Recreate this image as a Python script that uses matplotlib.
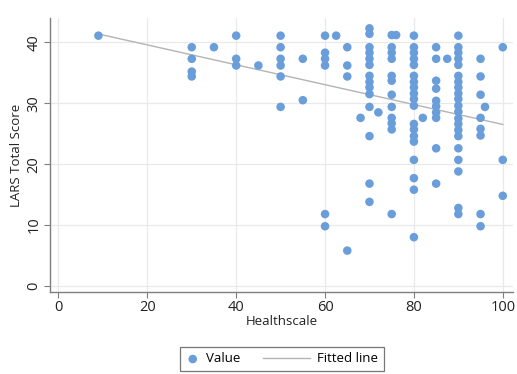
import numpy as np
import matplotlib
matplotlib.use("Agg")
import matplotlib.pyplot as plt
from matplotlib.legend_handler import HandlerPathCollection, HandlerLine2D

plt.rcParams['font.family'] = ['Open Sans', 'DejaVu Sans']

# ---- data ----
col_x = [9, 30, 35, 40, 45, 50, 55, 60, 62.5, 65, 68, 70, 72, 75, 76, 80, 82, 85, 87.5, 90, 95, 96, 100]
col_y = [
    [41.1],
    [39.2, 37.3, 35.2, 34.4],
    [39.2],
    [41.1, 37.3, 36.2],
    [36.2],
    [41.1, 39.2, 37.3, 36.2, 34.4, 29.4],
    [37.3, 30.5],
    [41.1, 38.3, 37.3, 36.2, 11.8, 9.8],
    [41.1],
    [39.2, 36.2, 34.4, 5.8],
    [27.6],
    [42.3, 41.4, 39.2, 38.3, 37.3, 36.3, 34.5, 33.5, 32.6, 31.5, 29.4, 24.6, 16.8, 13.8],
    [28.5],
    [41.2, 39.2, 38.3, 37.3, 34.5, 33.7, 31.4, 29.4, 27.6, 26.7, 25.7, 11.8],
    [41.2],
    [41.1, 39.2, 38.3, 37.3, 36.3, 34.5, 33.5, 32.6, 31.6, 30.7, 29.6, 26.6, 25.7, 24.6, 23.7, 20.7, 17.7, 15.8, 8.0],
    [27.6],
    [39.2, 37.3, 33.7, 32.4, 30.4, 29.5, 28.5, 27.6, 22.6, 16.8],
    [37.3],
    [41.1, 39.2, 38.3, 37.3, 36.3, 34.5, 33.5, 32.6, 31.6, 30.7, 29.6, 28.6, 27.5, 26.6, 25.6, 24.6, 22.6, 20.7, 18.8, 12.8, 11.8],
    [37.3, 34.4, 31.4, 27.6, 25.8, 24.7, 11.8, 9.8],
    [29.4],
    [39.2, 20.7, 14.8],
]
healthscale = np.concatenate([[x] * len(ys) for x, ys in zip(col_x, col_y)])
lars_score = np.concatenate(col_y)

x_ticks = [0, 20, 40, 60, 80, 100]
y_ticks = [0, 10, 20, 30, 40]

point_color = '#6a9edb'
line_color = '#b4b4b4'
grid_color = '#e9e9e9'
axis_color = '#7f7f7f'

fig = plt.figure(figsize=(5.17, 3.74), dpi=100)
ax = fig.add_axes([50 / 517, 82 / 374, 463 / 517, 274 / 374])

sc = ax.scatter(healthscale, lars_score, s=38, color=point_color, edgecolors='none',
                zorder=3, label='Value')

slope, intercept = np.polyfit(healthscale, lars_score, 1)
xf = np.array([healthscale.min(), healthscale.max()])
ln, = ax.plot(xf, intercept + slope * xf, color=line_color, lw=1.0, zorder=2,
              label='Fitted line')

ax.set_xlim(-1.9, 102.3)
ax.set_ylim(-1.0, 44.0)
ax.set_xticks(x_ticks)
ax.set_yticks(y_ticks)
ax.grid(True, color=grid_color, lw=0.9, zorder=0)
ax.set_axisbelow(True)

for side in ['top', 'right']:
    ax.spines[side].set_visible(False)
for side in ['left', 'bottom']:
    ax.spines[side].set_color(axis_color)
    ax.spines[side].set_linewidth(1.0)

ax.tick_params(axis='both', direction='out', length=4, width=0.8, color=axis_color,
               labelsize=10.5, labelcolor='#222222', pad=2)
for lab in ax.get_yticklabels():
    lab.set_rotation(90)
    lab.set_va('center')

ax.set_xlabel('Healthscale', fontsize=9.5, color='#222222', labelpad=0)
ax.set_ylabel('LARS Total Score', fontsize=9.5, color='#222222', labelpad=3)


class RightMarker(HandlerPathCollection):
    def get_xdata(self, legend, xdescent, ydescent, width, height, fontsize):
        x = [-xdescent + 0.5 * width]
        return x, x


class LongLine(HandlerLine2D):
    def get_xdata(self, legend, xdescent, ydescent, width, height, fontsize):
        x = np.array([-xdescent - 2.6 * fontsize, -xdescent + width])
        return x, x


leg = fig.legend([sc, ln], ['Value', 'Fitted line'], loc='center',
                 bbox_to_anchor=(282 / 517, 1 - 359 / 374), ncol=2,
                 fontsize=9.5, handlelength=1.0, handletextpad=0.5,
                 columnspacing=4.3, borderpad=0.45, frameon=True, fancybox=False,
                 handler_map={sc: RightMarker(), ln: LongLine()})
leg.get_frame().set_edgecolor('#555555')
leg.get_frame().set_linewidth(0.9)

fig.savefig('out.png', dpi=100)
